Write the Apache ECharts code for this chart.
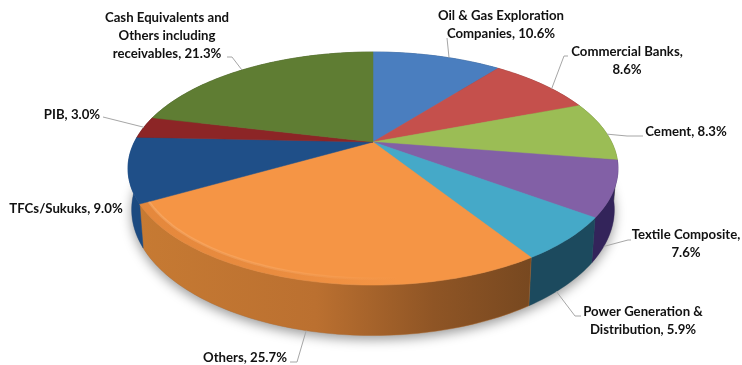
<!DOCTYPE html>
<html>
<head>
<meta charset="utf-8">
<style>html,body{margin:0;padding:0;background:#fff}#chart{width:742px;height:365px}</style>
<script src="https://cdn.jsdelivr.net/npm/echarts@6/dist/echarts.min.js"></script>
</head>
<body>
<div id="chart"></div>
<script>
// Portfolio allocation, percent of total
const categories = [
  'Oil & Gas Exploration\nCompanies', 'Commercial Banks', 'Cement', 'Textile Composite',
  'Power Generation &\nDistribution', 'Others', 'TFCs/Sukuks', 'PIB',
  'Cash Equivalents and\nOthers including\nreceivables'
];
const values = [10.6, 8.6, 8.3, 7.6, 5.9, 25.7, 9.0, 3.0, 21.3];
const topColors = ['#4a7ebf', '#c5504c', '#9bbd55', '#8260a6', '#45a9c8', '#f59545', '#1f4f88', '#8c2526', '#5f7d33'];
const wallColors = ['#2c4d75', '#76302e', '#5e7233', '#33245a', '#1c4a5e', '#b56d2d', '#1c4a80', '#551717', '#3a4c1f'];

// Label anchors and leader elbows
const labelLayout = [
  { x: 501, y: 25, sep: ', ', elbow: [[447, 38]], shift: 1 },
  { x: 627, y: 61, sep: ',\n', elbow: [[564, 56], [568, 56]], shift: 1 },
  { x: 686, y: 132, sep: ', ', elbow: [[627, 136], [643, 136]], shift: 0.5 },
  { x: 686, y: 244, sep: ',\n', elbow: [[628, 240], [631, 240]], shift: 1.8, wall: true },
  { x: 643, y: 321, sep: ', ', elbow: [[575, 316], [581, 316]], shift: 0.8, wall: true },
  { x: 245, y: 358, sep: ', ', elbow: [[297, 362], [290, 362]], shift: -0.3, wall: true },
  { x: 66, y: 209, sep: ', ' },
  { x: 72, y: 115, sep: ', ', elbow: [[103, 117]], shift: 0 },
  { x: 167, y: 36, sep: ', ', elbow: [[232, 57], [227, 57]], shift: -0.5 }
];

// Perspective disc: a tilted circle projected towards the viewer
const disc = { cx: 373, cy: 142, r: 238.6, h: 110.5, k: 0.2275, depth: 39, baseShrink: 0.985 };
const bevelSlice = 5;
const total = values.reduce((a, b) => a + b, 0);
const starts = [];
values.reduce((acc, v, i) => { starts[i] = acc; return acc + v; }, 0);

function rim(pct, level, radius) {
  const t = pct / total * Math.PI * 2;
  const X = Math.sin(t) * (radius || 1), Y = Math.cos(t) * (radius || 1);
  const s = 1 / (1 + disc.k * Y);
  const shrink = level ? disc.baseShrink : 1;
  return [disc.cx + disc.r * X * s * shrink, disc.cy - disc.h * Y * s + (level ? disc.depth * s : 0)];
}
function arc(a, b, level, radius) {
  const n = Math.max(4, Math.ceil((b - a) * 3));
  const pts = [];
  for (let i = 0; i <= n; i++) pts.push(rim(a + (b - a) * i / n, level, radius));
  return pts;
}
function wallFill(i) {
  if (i === 5) {
    return new echarts.graphic.LinearGradient(0, 0, 1, 0, [
      { offset: 0, color: '#c67a33' }, { offset: 0.45, color: '#bb7030' },
      { offset: 0.75, color: '#8f5525' }, { offset: 1, color: '#774820' }
    ]);
  }
  return wallColors[i];
}
// Fades a tint out from the left end of the bevel to its right end
function fade(rgb, alpha) {
  return new echarts.graphic.LinearGradient(0, 0, 1, 0, [
    { offset: 0, color: 'rgba(' + rgb + ',' + alpha + ')' },
    { offset: 0.5, color: 'rgba(' + rgb + ',' + alpha * 0.7 + ')' },
    { offset: 1, color: 'rgba(' + rgb + ',0)' }
  ]);
}

const chart = echarts.init(document.getElementById('chart'), null, { renderer: 'canvas' });
const rows = values.map((v, i) => [i, v]);
chart.setOption({
  animation: false,
  backgroundColor: '#fff',
  series: [
    {
      // soft shadow beneath the disc
      type: 'custom', coordinateSystem: 'none', z: 1, silent: true,
      data: [[0]],
      renderItem: () => ({
        type: 'polygon',
        shape: { points: arc(0, total, 1) },
        style: { fill: '#999', shadowBlur: 12, shadowOffsetY: 4, shadowColor: 'rgba(0,0,0,0.4)' }
      })
    },
    {
      // outer side walls
      type: 'custom', coordinateSystem: 'none', z: 2, silent: true,
      data: rows,
      renderItem: (p, api) => {
        const i = api.value(0), a = starts[i], b = a + api.value(1);
        const pts = arc(a, b, 0).concat(arc(a, b, 1).reverse());
        return { type: 'polygon', shape: { points: pts }, style: { fill: wallFill(i), stroke: wallColors[i], lineWidth: 0.4 } };
      }
    },
    {
      // top faces
      type: 'custom', coordinateSystem: 'none', z: 3, silent: true,
      data: rows,
      renderItem: (p, api) => {
        const i = api.value(0), a = starts[i], b = a + api.value(1);
        return {
          type: 'polygon',
          shape: { points: [[disc.cx, disc.cy]].concat(arc(a, b, 0)) },
          style: { fill: topColors[i], stroke: topColors[i], lineWidth: 0.5 }
        };
      }
    },
    {
      // bevel along the front-left rim of the largest slice
      type: 'custom', coordinateSystem: 'none', z: 4, silent: true,
      data: [[bevelSlice]],
      renderItem: (p, api) => {
        const i = api.value(0), b = starts[i] + values[i], a = starts[i] + values[i] * 0.3;
        return {
          type: 'group',
          children: [
            {
              type: 'polygon',
              shape: { points: arc(a, b, 0).concat(arc(a, b, 0, 0.965).reverse()) },
              style: { fill: fade('190,105,40', 0.3) }
            },
            {
              type: 'polyline',
              shape: { points: arc(a, b, 0, 0.965) },
              style: { fill: null, stroke: fade('255,200,150', 0.3), lineWidth: 2.5 }
            }
          ]
        };
      }
    },
    {
      // callouts
      type: 'custom', coordinateSystem: 'none', z: 5, silent: true,
      data: rows,
      renderItem: (p, api) => {
        const i = api.value(0), v = api.value(1), l = labelLayout[i];
        const children = [];
        if (l.elbow) {
          const start = rim(starts[i] + v / 2 + l.shift, l.wall ? 1 : 0);
          children.push({
            type: 'polyline',
            shape: { points: [start].concat(l.elbow) },
            style: { fill: null, stroke: '#a6a6a6', lineWidth: 1 }
          });
        }
        children.push({
          type: 'text',
          style: {
            x: l.x, y: l.y, text: categories[i] + l.sep + v.toFixed(1) + '%',
            font: 'bold 13.2px Lato', fill: '#111',
            align: 'center', verticalAlign: 'middle', lineHeight: 18
          }
        });
        return { type: 'group', children };
      }
    }
  ]
});
</script>
</body>
</html>
